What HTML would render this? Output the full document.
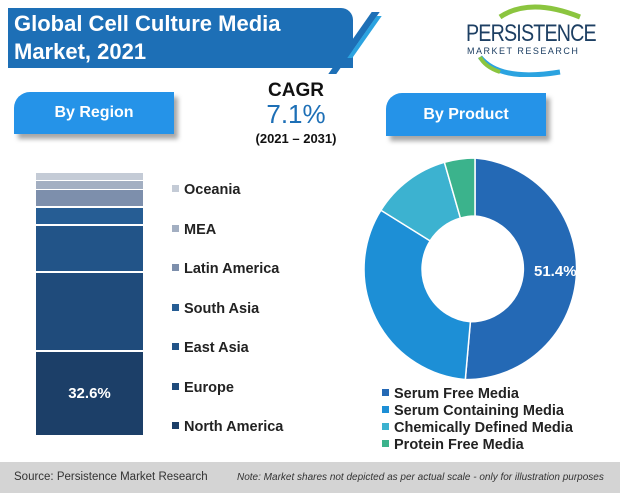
<!DOCTYPE html>
<html><head><meta charset="utf-8"><style>
body{margin:0;width:620px;height:493px;background:#fff;position:relative;overflow:hidden;font-family:"Liberation Sans",sans-serif;}
.abs{position:absolute}
.btn{position:absolute;background:#2593e8;color:#fff;font-weight:bold;font-size:16px;text-align:center;border-radius:16px 0 0 0;box-shadow:4px 5px 5px rgba(0,0,0,.35)}
.leg{position:absolute;left:172px;font-size:14.5px;font-weight:bold;color:#222}
.leg i{display:inline-block;width:7px;height:7px;margin-right:5px;vertical-align:2px}
.pl{position:absolute;left:382px;font-size:14.5px;font-weight:bold;color:#222;line-height:17px}
.pl i{display:inline-block;width:7px;height:7px;margin-right:5px;vertical-align:2px}
</style></head><body>
<div class="abs" style="left:8px;top:8px;width:345px;height:60px;background:#1d6fb6;border-radius:0 12px 0 0"></div>
<div class="abs" style="left:14px;top:10px;color:#fff;font-weight:bold;font-size:22px;line-height:28px">Global Cell Culture Media<br>Market, 2021</div>
<div class="abs" style="left:350px;top:12px;width:8px;height:62px;background:#1d6fb6;transform:skewX(-35deg)"></div>
<div class="abs" style="left:362px;top:16px;width:5px;height:42px;background:#2ba3e0;transform:skewX(-35deg)"></div>
<svg class="abs" style="left:460px;top:2px" width="150" height="75"><path d="M20,55 Q40,80 100,70" stroke="#2ba3e0" stroke-width="5" fill="none"/><path d="M40,15 Q70,-5 120,15" stroke="#8bc53f" stroke-width="5" fill="none"/><path d="M20,55 Q25,65 40,70" stroke="#8bc53f" stroke-width="4" fill="none"/></svg>
<div class="abs" style="left:466px;top:20px;color:#1d3f63;font-size:24px;letter-spacing:-1px;transform:scaleX(0.82);transform-origin:left">PERSISTENCE</div>
<div class="abs" style="left:467px;top:46px;color:#1d3f63;font-size:9px;letter-spacing:1.5px">MARKET RESEARCH</div>
<div class="btn" style="left:14px;top:92px;width:160px;height:42px;line-height:42px">By Region</div>
<div class="btn" style="left:386px;top:93px;width:160px;height:43px;line-height:43px">By Product</div>
<div class="abs" style="left:220px;top:80px;width:152px;text-align:center;font-weight:bold;font-size:19px;color:#111">CAGR</div>
<div class="abs" style="left:220px;top:99px;width:152px;text-align:center;font-size:26px;color:#1d6fb6">7.1%</div>
<div class="abs" style="left:220px;top:131px;width:152px;text-align:center;font-weight:bold;font-size:13px;color:#111">(2021 – 2031)</div>
<div class="abs" style="left:36px;top:173px;width:107px;height:262px;background:#fff">
<div class="abs" style="left:0;top:0;width:107px;height:7px;background:#c4cbd6"></div>
<div class="abs" style="left:0;top:8px;width:107px;height:8px;background:#a3afc2"></div>
<div class="abs" style="left:0;top:17px;width:107px;height:16px;background:#7d8fac"></div>
<div class="abs" style="left:0;top:35px;width:107px;height:16px;background:#265d94"></div>
<div class="abs" style="left:0;top:53px;width:107px;height:45px;background:#225488"></div>
<div class="abs" style="left:0;top:100px;width:107px;height:77px;background:#1f4b7b"></div>
<div class="abs" style="left:0;top:179px;width:107px;height:83px;background:#1c3f68;color:#fff;font-weight:bold;font-size:15px;text-align:center;line-height:84px">32.6%</div>
</div>
<div class="leg" style="top:182px"><i style="background:#c4cbd6"></i>Oceania</div>
<div class="leg" style="top:222px"><i style="background:#a3afc2"></i>MEA</div>
<div class="leg" style="top:261px"><i style="background:#7d8fac"></i>Latin America</div>
<div class="leg" style="top:301px"><i style="background:#265d94"></i>South Asia</div>
<div class="leg" style="top:340px"><i style="background:#225488"></i>East Asia</div>
<div class="leg" style="top:380px"><i style="background:#1f4b7b"></i>Europe</div>
<div class="leg" style="top:419px"><i style="background:#1c3f68"></i>North America</div>
<svg class="abs" style="left:0;top:0" width="620" height="493">
<g transform="translate(475,269)" stroke="#fff" stroke-width="1.5">
<path d="M0,-111 A111,111 0 0 1 -9.7,110.6 L-4.6,52.8 A53,53 0 0 0 0,-53Z" fill="#2469b5"/>
<path d="M-9.7,110.6 A111,111 0 0 1 -94.1,-58.8 L-44.9,-28.1 A53,53 0 0 0 -4.6,52.8Z" fill="#1d8fd6"/>
<path d="M-94.1,-58.8 A111,111 0 0 1 -30.6,-106.7 L-14.6,-50.9 A53,53 0 0 0 -44.9,-28.1Z" fill="#3cb2d0"/>
<path d="M-30.6,-106.7 A111,111 0 0 1 0,-111 L0,-53 A53,53 0 0 0 -14.6,-50.9Z" fill="#3bb38c"/>
</g>
<text x="534" y="276" fill="#fff" font-weight="bold" font-size="15" font-family="Liberation Sans">51.4%</text>
</svg>
<div class="pl" style="top:386px"><i style="background:#2469b5"></i>Serum Free Media</div>
<div class="pl" style="top:403px"><i style="background:#1d8fd6"></i>Serum Containing Media</div>
<div class="pl" style="top:420px"><i style="background:#3cb2d0"></i>Chemically Defined Media</div>
<div class="pl" style="top:437px"><i style="background:#3bb38c"></i>Protein Free Media</div>
<div class="abs" style="left:0;top:462px;width:620px;height:31px;background:#d4d4d4"></div>
<div class="abs" style="left:14px;top:471px;font-size:11.5px;color:#333">Source: Persistence Market Research</div>
<div class="abs" style="left:237px;top:472px;font-size:10px;font-style:italic;color:#333">Note: Market shares not depicted as per actual scale - only for illustration purposes</div>
</body></html>
